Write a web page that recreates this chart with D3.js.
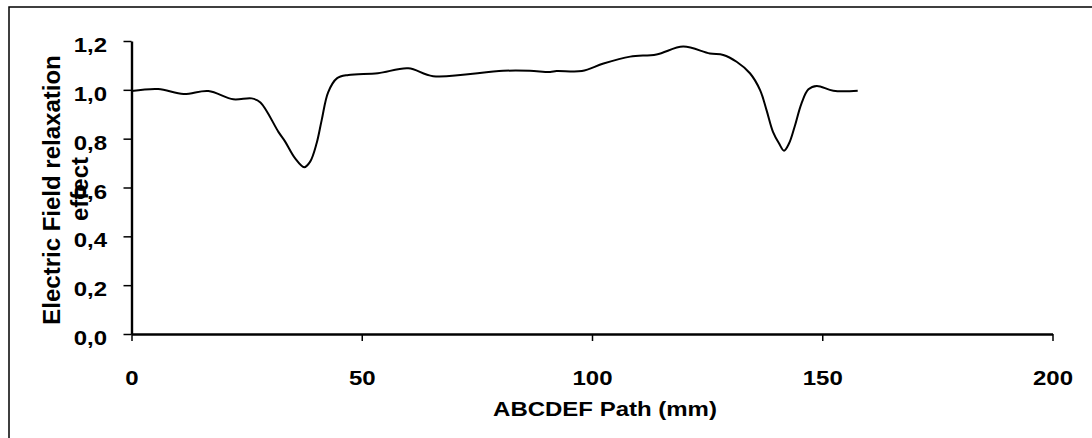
<!DOCTYPE html>
<html>
<head>
<meta charset="utf-8">
<script src="https://cdn.jsdelivr.net/npm/d3@7"></script>
<style>
  html, body { margin: 0; padding: 0; background: #fff; }
  svg { display: block; font-family: "Liberation Sans", Arial, sans-serif; font-weight: bold; }
</style>
</head>
<body>
<svg id="chart" width="1092" height="438"></svg>
<script>
// Path position along ABCDEF (mm)
const pathMm = [0, 5.8, 11.3, 16.7, 22.1, 26.1, 28, 31.9, 33.3, 35.5, 37.5, 38.8, 40.2, 41.3, 42.7,
  44.6, 47.1, 53.5, 60.1, 65.5, 80.7, 86.5, 90.9, 92.3, 97.8, 102.5, 108.3, 114, 119.8,
  125.6, 128.5, 131.4, 134.3, 136.5, 137.9, 139.3, 140.6, 141.7, 142.8, 144.0, 145.5, 147,
  148.8, 152.4, 157.7];

// Electric field relaxation effect at each position
const relaxation = [0.995, 1.003, 0.983, 0.995, 0.961, 0.965, 0.948, 0.828, 0.79, 0.72, 0.683,
  0.706, 0.781, 0.876, 0.99, 1.047, 1.061, 1.068, 1.088, 1.056, 1.078, 1.078, 1.073, 1.077,
  1.077, 1.108, 1.136, 1.145, 1.177, 1.149, 1.143, 1.115, 1.068, 0.999, 0.917, 0.828, 0.781,
  0.751, 0.781, 0.849, 0.945, 1.002, 1.016, 0.996, 0.996];

const xTicks = [0, 50, 100, 150, 200];
const yTicks = [0, 0.2, 0.4, 0.6, 0.8, 1.0, 1.2];

const xTitle = "ABCDEF Path (mm)";
const yTitleLines = ["Electric Field relaxation", "effect"];

const svg = d3.select("#chart");

// outer chart frame
svg.append("rect")
  .attr("x", 9).attr("y", 7)
  .attr("width", 1200).attr("height", 600)
  .attr("fill", "none").attr("stroke", "#000").attr("stroke-width", 1.5);

const x = d3.scaleLinear().domain([0, 200]).range([131.5, 1052.5]);
const y = d3.scaleLinear().domain([0, 1.2]).range([334, 41]);

const commaLocale = d3.formatLocale({ decimal: ",", thousands: ".", grouping: [3], currency: ["", ""] });
const yFmt = commaLocale.format(".1f");

const stretch = 1.2;

// x axis
const gx = svg.append("g")
  .attr("transform", `translate(0,${y(0)})`)
  .call(d3.axisBottom(x).tickValues(xTicks).tickSize(7).tickPadding(0).tickSizeOuter(0));
gx.select(".domain").attr("stroke-width", 2.6);
gx.selectAll(".tick line").attr("stroke-width", 1.5);
gx.selectAll(".tick text")
  .attr("y", 0).attr("dy", null)
  .attr("font-size", 20).attr("font-family", "Liberation Sans, Arial, sans-serif").attr("font-weight", "bold")
  .attr("fill", "#000")
  .attr("transform", `translate(0,50.5) scale(${stretch},1)`);

// y axis
const gy = svg.append("g")
  .attr("transform", `translate(${x(0)},0)`)
  .call(d3.axisLeft(y).tickValues(yTicks).tickFormat(yFmt).tickSize(8).tickPadding(0).tickSizeOuter(0));
gy.select(".domain").attr("stroke-width", 2.4);
gy.selectAll(".tick line").attr("stroke-width", 1.5);
gy.selectAll(".tick text")
  .attr("x", 0).attr("dy", null).attr("y", 0)
  .attr("font-size", 20).attr("font-family", "Liberation Sans, Arial, sans-serif").attr("font-weight", "bold")
  .attr("fill", "#000")
  .attr("text-anchor", "end")
  .attr("transform", `translate(-24.5,10.5) scale(${stretch},1)`);

// x title
svg.append("text")
  .attr("text-anchor", "middle")
  .attr("font-size", 20)
  .attr("transform", `translate(605,416) scale(${stretch},1)`)
  .text(xTitle);

// y title, two lines
const yTitle = svg.append("g");
yTitle.append("text")
  .attr("text-anchor", "middle")
  .attr("font-size", 24)
  .attr("transform", "translate(60,190) rotate(-90)")
  .text(yTitleLines[0]);
yTitle.append("text")
  .attr("text-anchor", "middle")
  .attr("font-size", 24)
  .attr("transform", "translate(88,189) rotate(-90)")
  .text(yTitleLines[1]);

// data curve, smoothed
const points = pathMm.map((d, i) => [d, relaxation[i]]);
const line = d3.line()
  .x(d => x(d[0]))
  .y(d => y(d[1]))
  .curve(d3.curveCatmullRom.alpha(0.5));

svg.append("path")
  .datum(points)
  .attr("fill", "none")
  .attr("stroke", "#000")
  .attr("stroke-width", 2)
  .attr("d", line);
</script>
</body>
</html>
